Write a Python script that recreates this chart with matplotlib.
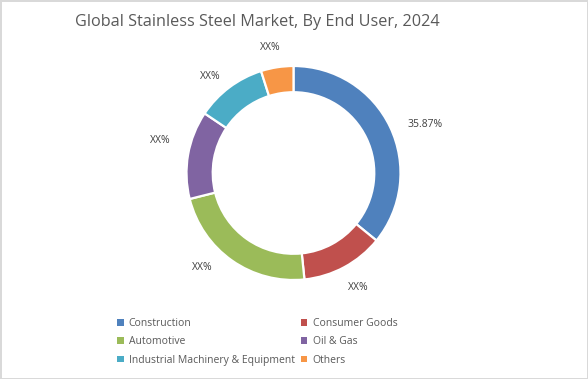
import numpy as np
import matplotlib.pyplot as plt
from matplotlib.patches import Patch

users = ['Construction', 'Consumer Goods', 'Automotive', 'Oil & Gas',
         'Industrial Machinery & Equipment', 'Others']
shares = [35.87, 12.5, 22.73, 13.3, 10.7, 4.9]
labels = ['35.87%', 'XX%', 'XX%', 'XX%', 'XX%', 'XX%']
colors = ['#4F81BD', '#C0504D', '#9BBB59', '#8064A2', '#4BACC6', '#F79646']

# label placement tweaks (distance in radii, angle nudge in degrees)
lab_dist = [1.31, 1.23, 1.23, 1.28, 1.19, 1.19]
lab_nudge = [-5, 1, -9, -4, 4, 1.6]

plt.rcParams['font.family'] = ['Open Sans', 'DejaVu Sans']
txt = '#595959'

fig = plt.figure(figsize=(5.88, 3.79), dpi=100)
fig.patch.set_edgecolor('#d9d9d9')
fig.patch.set_linewidth(2)

W, H = 588, 379
cx, cy, r = 293.5, 173, 107
ax = fig.add_axes([(cx - r) / W, (H - cy - r) / H, 2 * r / W, 2 * r / H])
wedges, _ = ax.pie(shares, colors=colors, startangle=90, counterclock=False,
                   radius=1, wedgeprops=dict(width=0.245, edgecolor='white', linewidth=1.6))
ax.set_xlim(-1, 1)
ax.set_ylim(-1, 1)
ax.set_aspect('equal')

for w, lab, d, n in zip(wedges, labels, lab_dist, lab_nudge):
    a = np.deg2rad((w.theta1 + w.theta2) / 2 + n)
    ax.text(d * np.cos(a), d * np.sin(a), lab, ha='center', va='center',
            fontsize=7.5, color='#404040', clip_on=False)

fig.text(257 / W, 1 - 22 / H, 'Global Stainless Steel Market, By End User, 2024',
         ha='center', va='center', fontsize=11.7, color=txt)

order = [0, 2, 4, 1, 3, 5]
handles = [Patch(facecolor=colors[i]) for i in order]
leg = fig.legend(handles, [users[i] for i in order], ncol=2, loc='upper left',
                 bbox_to_anchor=(108 / W, 1 - 309 / H), frameon=False,
                 fontsize=7.5, handlelength=0.6, handleheight=0.6, handletextpad=0.5,
                 labelspacing=0.68, columnspacing=0.6)
for t in leg.get_texts():
    t.set_color(txt)

fig.savefig('out.png', dpi=100)
